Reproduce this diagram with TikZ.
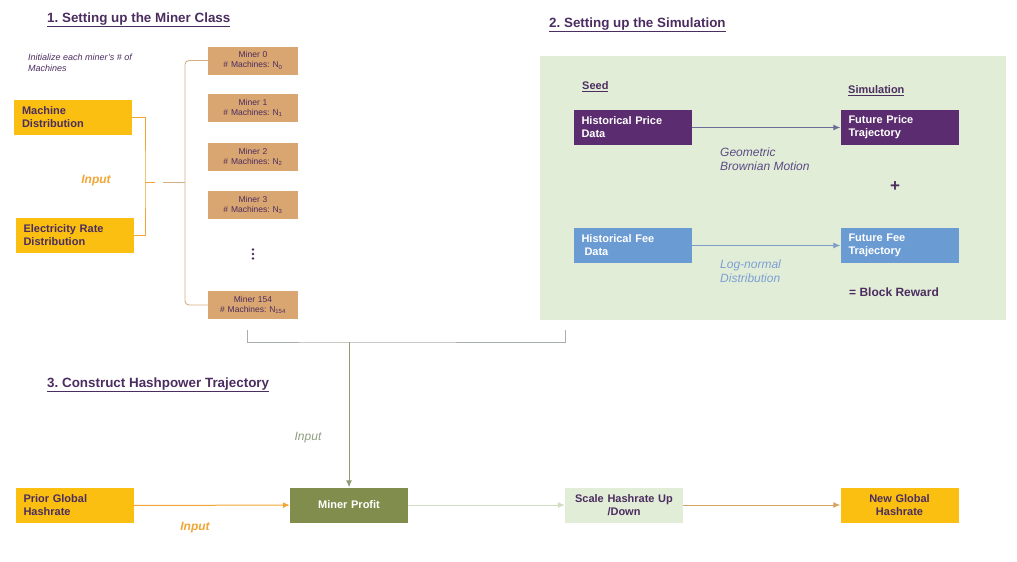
\documentclass[tikz,border=0pt]{standalone}
\usepackage{fontspec}
\setmainfont{Liberation Sans}
\usetikzlibrary{arrows.meta}
\definecolor{ttl}{HTML}{4B2D5F}
\definecolor{ylw}{HTML}{FABF10}
\definecolor{tanc}{HTML}{D9A571}
\definecolor{prp}{HTML}{5B2C6F}
\definecolor{blu}{HTML}{6A9BD2}
\definecolor{olv}{HTML}{818D4C}
\definecolor{lgr}{HTML}{E2EDD8}
\definecolor{orgc}{HTML}{F0A534}
\definecolor{tanline}{HTML}{D6AE84}
\definecolor{grayline}{HTML}{A8AFA8}
\definecolor{oliveline}{HTML}{8E9C74}
\definecolor{gbmc}{HTML}{5B4B85}
\definecolor{lnc}{HTML}{7B9FD4}
\definecolor{inpg}{HTML}{8E9C80}
\definecolor{parc}{HTML}{6E6A9A}
\definecolor{farc}{HTML}{7E9CC8}
\definecolor{scarc}{HTML}{D9A460}
\definecolor{lgarc}{HTML}{CFDDC1}
\begin{document}
\frenchspacing
\begin{tikzpicture}[x=1pt,y=-1pt,
  box/.style={minimum height=35pt, inner xsep=8pt, inner ysep=0pt, text width=102pt, align=left,
    font=\fontsize{11}{13}\selectfont\bfseries},
  ybox/.style={box, fill=ylw, text=ttl},
  pbox/.style={box, fill=prp, text=white},
  bbox/.style={box, fill=blu, text=white},
  obox/.style={box, fill=olv, text=white, align=center},
  gbox/.style={box, fill=lgr, text=ttl, align=center},
  mbox/.style={fill=tanc, text=ttl, text width=86pt, inner xsep=2pt, inner ysep=0pt, align=center,
    minimum height=28pt, font=\fontsize{8.5}{10}\selectfont},
  ttlstyle/.style={anchor=west, text=ttl, font=\fontsize{13.4}{16}\selectfont\bfseries, inner sep=0pt},
  hdr/.style={anchor=west, text=ttl, font=\fontsize{11}{13}\selectfont\bfseries, inner sep=0pt},
  lbl/.style={anchor=west, align=left, inner sep=0pt, font=\fontsize{12}{14}\selectfont\itshape},
  arr/.style={line width=1pt, -{Latex[length=7pt,width=6pt]}},
  brk/.style={line width=0.9pt}
]
\useasboundingbox (0,0) rectangle (1017,562);

% titles
\node[ttlstyle] (t1) at (47,20) {\underline{1. Setting up the Miner Class}};
\node[ttlstyle] (t2) at (549,25) {\underline{2. Setting up the Simulation}};
\node[ttlstyle] (t3) at (47,385) {\underline{3. Construct Hashpower Trajectory}};

% section 1
\node[anchor=north west, align=left, inner sep=0pt, text=ttl, font=\fontsize{9}{11}\selectfont\itshape] (init) at (28,54)
  {Initialize each miner's \# of\\Machines};
\node[ybox] (md) at (73,117) {Machine\\Distribution};
\node[ybox] (erd) at (74.5,235.5) {Electricity Rate\\Distribution};
\node[anchor=center, inner sep=0pt, text=orgc, font=\fontsize{12}{14}\selectfont\bfseries\itshape] (inp1) at (96,181) {Input};

\node[mbox] (m0) at (253,60.5) {Miner 0\\\# Machines: N\textsubscript{0}};
\node[mbox] (m1) at (253,108) {Miner 1\\\# Machines: N\textsubscript{1}};
\node[mbox] (m2) at (253,157) {Miner 2\\\# Machines: N\textsubscript{2}};
\node[mbox] (m3) at (253,205) {Miner 3\\\# Machines: N\textsubscript{3}};
\coordinate (dots) at (253,254);
\fill[ttl] ([yshift=4.5pt]dots) circle (1.3pt) (dots) circle (1.3pt) ([yshift=-4.5pt]dots) circle (1.3pt);
\node[mbox] (m154) at (253,305) {Miner 154\\\# Machines: N\textsubscript{154}};

\coordinate (obx) at (145,182);
\draw[brk, orgc] (md.east) -| (obx) |- (erd.east);
\draw[brk, orgc] (obx) -- ++(10,0);
\coordinate (tbx) at (185,182);
\draw[brk, tanline, rounded corners=4pt] (m0.west) -| (tbx) |- (m154.west);
\draw[brk, tanline] (tbx) -- ++(-22,0);

% section 2
\fill[lgr] (540,56) rectangle (1006,320);
\node[hdr] (seed) at (582,87) {\underline{Seed}};
\node[hdr] (simh) at (848,91) {\underline{Simulation}};
\node[pbox] (hp) at (632.5,127.5) {Historical Price\\Data};
\node[pbox] (fp) at (899.5,127.5) {Future Price\\Trajectory};
\node[bbox] (hf) at (632.5,245.5) {Historical Fee\\\hspace*{3pt}Data};
\node[bbox] (ff) at (899.5,245.5) {Future Fee\\Trajectory};
\draw[arr, parc] (hp) -- (fp);
\draw[arr, farc] (hf) -- (ff);
\node[lbl, text=gbmc] (gbm) at (720,159) {Geometric\\Brownian Motion};
\node[lbl, text=lnc] (lgn) at (720,271) {Log-normal\\Distribution};
\node[inner sep=0pt, text=ttl, font=\fontsize{17}{17}\selectfont\bfseries] (plus) at (895,187) {+};
\node[anchor=west, inner sep=0pt, text=ttl, font=\fontsize{12}{14}\selectfont\bfseries] (br) at (849,292) {= Block Reward};

% section 3
\node[ybox] (pg) at (74.5,505.5) {Prior Global\\Hashrate};
\node[obox] (mp) at (349,505) {Miner Profit};
\node[gbox] (sc) at (624,505) {Scale Hashrate Up\\/Down};
\node[ybox, align=center] (ng) at (899.5,505) {New Global\\Hashrate};

\coordinate (gb1) at (247,330);
\coordinate (gb2) at (565,330);
\coordinate (gbm) at (349,342);
\draw[brk, grayline] (gb1) |- (gbm) -| (gb2);
\draw[arr, oliveline] (gbm) -- (mp.north);
\node[anchor=center, inner sep=0pt, text=inpg, font=\fontsize{12}{14}\selectfont\itshape] (inp2) at (308,438) {Input};

\draw[arr, orgc] (pg) -- (mp);
\node[anchor=center, inner sep=0pt, text=orgc, font=\fontsize{12}{14}\selectfont\bfseries\itshape] (inp3) at (195,528) {Input};
\draw[arr, lgarc] (mp) -- (sc);
\draw[arr, scarc] (sc) -- (ng);
\end{tikzpicture}
\end{document}
